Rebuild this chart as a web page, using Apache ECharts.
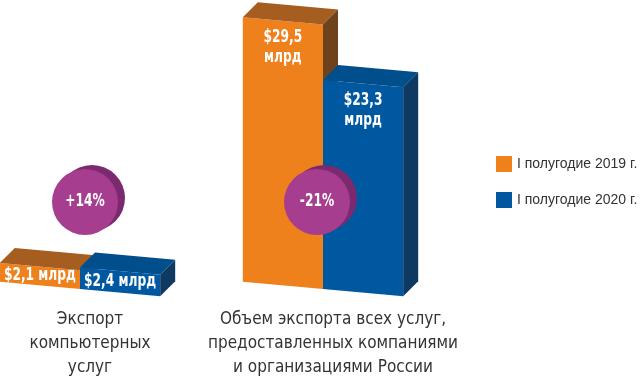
<!DOCTYPE html>
<html>
<head>
<meta charset="utf-8">
<script src="https://cdn.jsdelivr.net/npm/echarts@6/dist/echarts.min.js"></script>
<style>
  html, body { margin: 0; padding: 0; background: #fff; }
  #chart { width: 640px; height: 376px; }
</style>
</head>
<body>
<div id="chart"></div>
<script>
var categories = ["Экспорт\nкомпьютерных\nуслуг", "Объем экспорта всех услуг,\nпредоставленных компаниями\nи организациями России"];
var legendNames = ["I полугодие 2019 г.", "I полугодие 2020 г."];
var values2019 = [2.1, 29.5];
var values2020 = [2.4, 23.3];
var changeLabels = ["+14%", "-21%"];

var FONT = "'Liberation Sans Narrow', 'DejaVu Sans Condensed', sans-serif";
var DEPTH = 15;   // смещение 3D-граней
var SKEW = 0.09;  // наклон перспективы
var BAR = 0.33;   // ширина столбца в долях шага категории
var NARROW = 0.8; // сжатие подписей по горизонтали

var orange = { front: "#ef811d", top: "#a65d20", side: "#6e421b" };
var blue = { front: "#0059a0", top: "#004e8c", side: "#0e3961" };

function fmt(v) {
  return "$" + String(v).replace(".", ",");
}

function label(x, y, text, vAlign) {
  return {
    type: "text",
    x: x, y: y,
    scaleX: NARROW,
    style: {
      x: 0, y: 0,
      text: text,
      fill: "#fff",
      font: "bold 17px " + FONT,
      align: "center",
      verticalAlign: vAlign,
      lineHeight: 20
    }
  };
}

// столбец с верхней и боковой гранью
function barRender(side, c) {
  return function (params, api) {
    var cat = api.value(0);
    var val = api.value(1);
    var base = api.coord([cat, 0]);
    var top = api.coord([cat, val]);
    var w = api.size([1, 0])[0] * BAR;
    var cx = base[0];
    var x0 = side < 0 ? cx - w : cx;
    var x1 = x0 + w;
    function p(x, y) { return [x, y + (x - cx) * SKEW]; }
    function back(pt) { return [pt[0] + DEPTH, pt[1] - DEPTH]; }
    var fl = p(x0, top[1]), fr = p(x1, top[1]), br = p(x1, base[1]), bl = p(x0, base[1]);
    var big = val > 10;
    var mid = p((x0 + x1) / 2, top[1]);
    var txt;
    if (big) {
      txt = label(mid[0], mid[1] + 7, fmt(val) + "\nмлрд", "top");
    } else {
      txt = label(mid[0], (mid[1] + p((x0 + x1) / 2, base[1])[1]) / 2, fmt(val) + " млрд", "middle");
    }
    return {
      type: "group",
      children: [
        { type: "polygon", shape: { points: [fl, fr, br, bl] }, style: { fill: c.front } },
        { type: "polygon", shape: { points: [fl, fr, back(fr), back(fl)] }, style: { fill: c.top } },
        { type: "polygon", shape: { points: [fr, br, back(br), back(fr)] }, style: { fill: c.side } },
        txt
      ]
    };
  };
}

function diskRender(params, api) {
  var cat = api.value(0);
  var pt = api.coord([cat, 9.7]);
  var cx = pt[0] + (cat === 0 ? 5 : -6);
  var cy = pt[1];
  var r = 33;
  var t = label(cx, cy, changeLabels[params.dataIndex], "middle");
  return {
    type: "group",
    children: [
      { type: "circle", shape: { cx: cx + 7, cy: cy - 4, r: r }, style: { fill: "#7b2a6f" } },
      { type: "circle", shape: { cx: cx, cy: cy, r: r }, style: { fill: "#a63d8f" } },
      t
    ]
  };
}

var chart = echarts.init(document.getElementById("chart"));
chart.setOption({
  backgroundColor: "#fff",
  animation: false,
  grid: { left: 80, right: 317, top: 20, bottom: 87, outerBoundsMode: "none" },
  legend: {
    data: legendNames,
    orient: "vertical",
    left: 491,
    top: 151,
    icon: "rect",
    itemWidth: 16,
    itemHeight: 16,
    itemGap: 20,
    itemStyle: { borderWidth: 0 },
    textStyle: { fontSize: 14, color: "#333", fontFamily: "'Liberation Sans', Arial, sans-serif" }
  },
  xAxis: {
    type: "category",
    data: categories,
    boundaryGap: false,
    axisLine: { show: false },
    axisTick: { show: false },
    axisLabel: {
      interval: 0,
      showMinLabel: true,
      showMaxLabel: true,
      hideOverlap: false,
      margin: 19,
      fontSize: 17,
      lineHeight: 24,
      color: "#333",
      fontFamily: FONT,
      align: "center",
      padding: [0, 0, 0, 20]
    }
  },
  yAxis: { type: "value", min: 0, max: 30, show: false },
  series: [
    {
      name: legendNames[0],
      type: "custom",
      itemStyle: { color: orange.front },
      renderItem: barRender(-1, orange),
      data: values2019.map(function (v, i) { return [i, v]; })
    },
    {
      name: legendNames[1],
      type: "custom",
      itemStyle: { color: blue.front },
      renderItem: barRender(1, blue),
      data: values2020.map(function (v, i) { return [i, v]; })
    },
    {
      name: "change",
      type: "custom",
      renderItem: diskRender,
      data: changeLabels.map(function (t, i) { return [i, 0]; })
    }
  ]
});
</script>
</body>
</html>
